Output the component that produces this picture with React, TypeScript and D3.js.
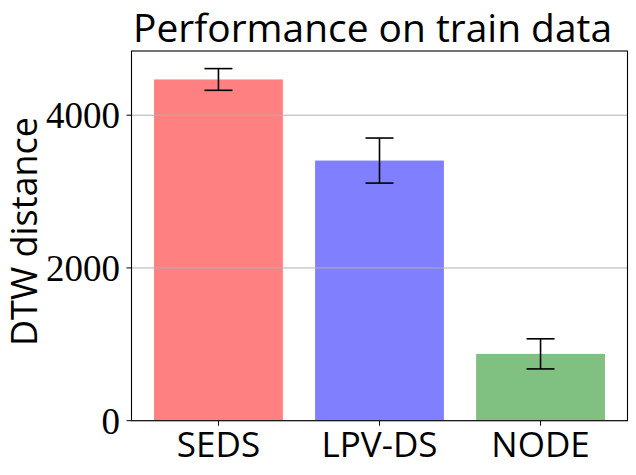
import React from "react";
import * as d3 from "d3";

const categories = ["SEDS", "LPV-DS", "NODE"];
const means = [4468, 3406, 875];
const errors = [142, 295, 197];
const colors = ["#ff8080", "#8080ff", "#80c080"];
const yTicks = [0, 2000, 4000];
const title = "Performance on train data";
const yLabel = "DTW distance";

const W = 636;
const H = 475;
const left = 131.5;
const right = 627.5;
const top = 51;
const bottom = 420.7;

export default function App() {
  const x = d3
    .scaleBand<string>()
    .domain(categories)
    .range([left, right])
    .paddingInner(0.2)
    .paddingOuter(0.14);
  const yMax = d3.max(means.map((m, i) => m + errors[i]))! * 1.05;
  const y = d3.scaleLinear().domain([0, yMax]).range([bottom, top]);
  const capHalf = 14;
  const serif = "'Liberation Serif', 'DejaVu Serif', serif";
  const sans = "'Open Sans', Lato, sans-serif";

  return (
    <svg
      width={W}
      height={H}
      style={{ position: "absolute", left: 0, top: 0, background: "#fff" }}
    >
      <rect x={0} y={0} width={W} height={H} fill="#fff" />
      {categories.map((c, i) => (
        <rect
          key={c}
          x={x(c)!}
          y={y(means[i])}
          width={x.bandwidth()}
          height={y(0) - y(means[i])}
          fill={colors[i]}
        />
      ))}
      {yTicks.map((t) => (
        <line
          key={"g" + t}
          x1={left}
          x2={right}
          y1={y(t)}
          y2={y(t)}
          stroke="#b0b0b0"
          strokeWidth={1}
        />
      ))}
      {categories.map((c, i) => {
        const cx = x(c)! + x.bandwidth() / 2;
        const y1 = y(means[i] + errors[i]);
        const y2 = y(means[i] - errors[i]);
        return (
          <g key={"e" + c} stroke="#000" strokeWidth={1.6}>
            <line x1={cx} x2={cx} y1={y1} y2={y2} />
            <line x1={cx - capHalf} x2={cx + capHalf} y1={y1} y2={y1} />
            <line x1={cx - capHalf} x2={cx + capHalf} y1={y2} y2={y2} />
          </g>
        );
      })}
      <rect
        x={left}
        y={top}
        width={right - left}
        height={bottom - top}
        fill="none"
        stroke="#000"
        strokeWidth={1.1}
      />
      {yTicks.map((t) => (
        <g key={"t" + t}>
          <line
            x1={left - 5}
            x2={left}
            y1={y(t)}
            y2={y(t)}
            stroke="#000"
            strokeWidth={1}
          />
          <text
            x={120}
            y={y(t) + 13}
            textAnchor="end"
            fontFamily={serif}
            fontSize={37}
            fill="#000"
          >
            {t}
          </text>
        </g>
      ))}
      {categories.map((c) => {
        const cx = x(c)! + x.bandwidth() / 2;
        return (
          <g key={"x" + c}>
            <line
              x1={cx}
              x2={cx}
              y1={bottom}
              y2={bottom + 5}
              stroke="#000"
              strokeWidth={1}
            />
            <text
              x={cx}
              y={456.7}
              textAnchor="middle"
              fontFamily={sans}
              fontSize={35}
              fill="#000"
            >
              {c}
            </text>
          </g>
        );
      })}
      <text
        transform={`translate(36.7, 231.5) rotate(-90)`}
        textAnchor="middle"
        fontFamily={sans}
        fontSize={36}
        textLength={229}
        lengthAdjust="spacingAndGlyphs"
        fill="#000"
      >
        {yLabel}
      </text>
      <text
        x={372.5}
        y={41.7}
        textAnchor="middle"
        fontFamily={sans}
        fontSize={38}
        textLength={479}
        lengthAdjust="spacingAndGlyphs"
        fill="#000"
      >
        {title}
      </text>
    </svg>
  );
}
